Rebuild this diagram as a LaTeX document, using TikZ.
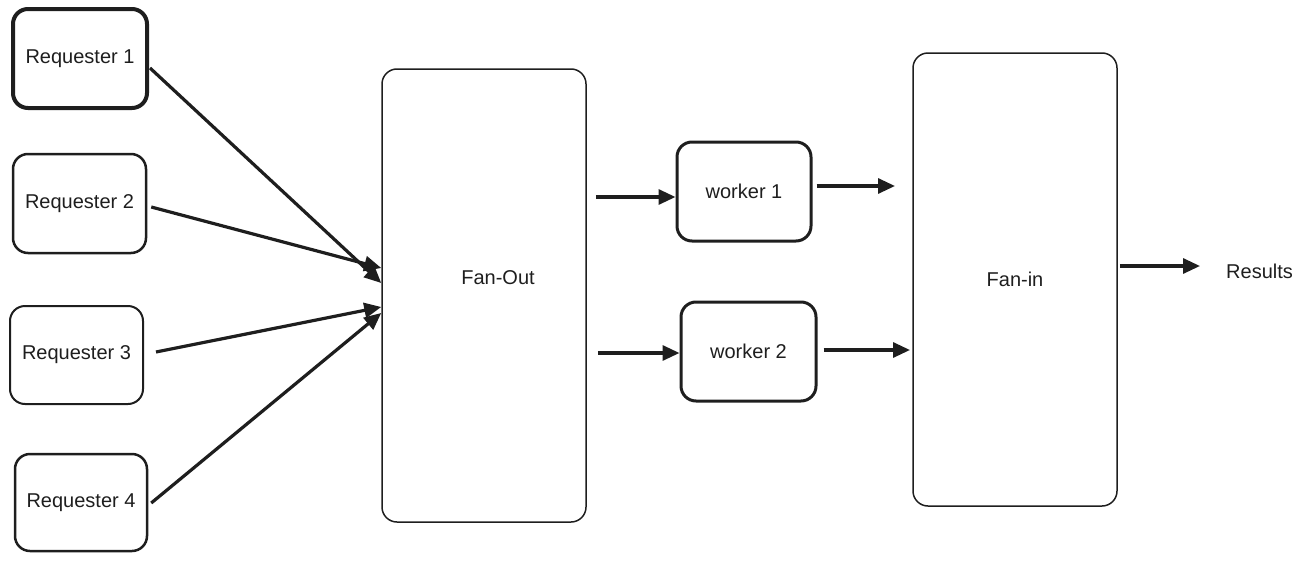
\documentclass[tikz,border=0pt]{standalone}
\usepackage{fontspec}
\setmainfont{Liberation Sans}
\usepackage{xcolor}
\usetikzlibrary{arrows.meta}
\definecolor{ink}{HTML}{1E1E1E}

\begin{document}
\begin{tikzpicture}[x=1pt,y=-1pt,
  every node/.style={text=ink,font=\fontsize{20}{23}\selectfont},
  box/.style={draw=ink,rounded corners=15pt,inner sep=0pt,line width=2.5pt},
  flow/.style={draw=ink,line width=3.2pt,-{Triangle[length=17pt,width=15pt]}}]
\useasboundingbox (0,0) rectangle (1309,562);
\node [box,line width=4pt,minimum width=134,minimum height=99] (r1) at (80,58.5) {Requester 1};
\node [box,minimum width=133,minimum height=99] (r2) at (79.5,203.5) {Requester 2};
\node [box,line width=2pt,minimum width=133,minimum height=98] (r3) at (76.5,355) {Requester 3};
\node [box,minimum width=132,minimum height=97] (r4) at (81,502.5) {Requester 4};
\node [box,line width=1.5pt,minimum width=204,minimum height=453,
  label={[xshift=14pt,yshift=18pt]center:Fan-Out}] (fanout) at (484,295.5) {};
\node [box,line width=3pt,minimum width=134,minimum height=99] (w1) at (744,191.5) {worker 1};
\node [box,line width=3pt,minimum width=135,minimum height=99] (w2) at (748.5,351.5) {worker 2};
\node [box,line width=1.5pt,minimum width=204,minimum height=453] (fanin) at (1015,279.5) {Fan-in};
\node [anchor=west,inner sep=0pt] (results) at (1226,271) {Results};
\coordinate (f1) at (895,186);
\coordinate (f2) at (910,350);
\draw[flow] ([shift={(1,9.5)}]r1.east) -- ([shift={(0,-12.5)}]fanout.west);
\draw[flow] ([shift={(4,3.5)}]r2.east) -- ([shift={(0,-27.5)}]fanout.west);
\draw[flow] ([shift={(12,-3)}]r3.east) -- ([shift={(0,11.5)}]fanout.west);
\draw[flow] ([shift={(3,0.5)}]r4.east) -- ([shift={(0,17.5)}]fanout.west);
\draw[flow] ([shift={(9,5.5)}]fanout.east |- w1.west) -- ([shift={(0,5.5)}]w1.west);
\draw[flow] ([shift={(11,1.5)}]fanout.east |- w2.west) -- ([shift={(0,1.5)}]w2.west);
\draw[flow] ([shift={(4,-5.5)}]w1.east) -- (f1);
\draw[flow] ([shift={(6,-1.5)}]w2.east) -- (f2);
\draw[flow] ([shift={(2,-13.5)}]fanin.east) -- ([shift={(-26,-5)}]results.west);
\end{tikzpicture}
\end{document}
